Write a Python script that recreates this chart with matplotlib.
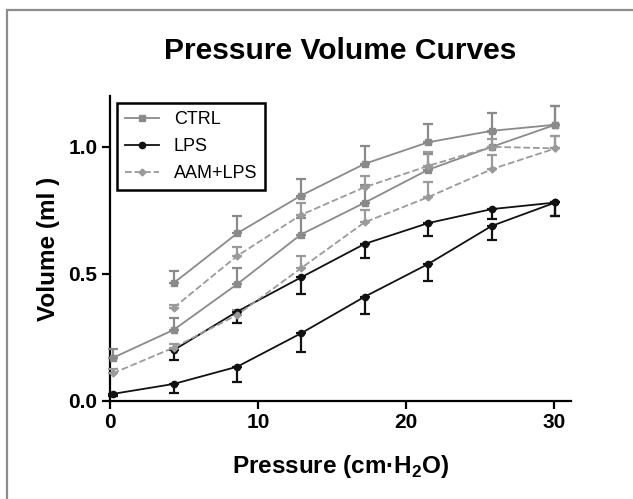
#!/usr/bin/env python3
# pressure_volume.py

import matplotlib
matplotlib.use("Agg")
import matplotlib.pyplot as plt
from matplotlib.lines import Line2D
from matplotlib.patches import Rectangle

# pressure steps (cm H2O): inflation starts at 0, deflation comes back to 4.3
p_infl = [0.2, 4.3, 8.6, 12.9, 17.2, 21.5, 25.8, 30.1]
p_defl = [4.3, 8.6, 12.9, 17.2, 21.5, 25.8, 30.1]

ctrl_infl = [0.17, 0.28, 0.46, 0.655, 0.78, 0.91, 1.00, 1.087]
ctrl_infl_err = [0.035, 0.046, 0.063, 0.065, 0.07, 0.063, 0.06, 0.075]
ctrl_defl = [0.464, 0.66, 0.808, 0.933, 1.018, 1.063, 1.087]
ctrl_defl_err = [0.048, 0.066, 0.065, 0.07, 0.072, 0.07, 0.075]

lps_infl = [0.028, 0.067, 0.135, 0.266, 0.41, 0.539, 0.689, 0.781]
lps_infl_err = [0.01, 0.037, 0.06, 0.072, 0.068, 0.067, 0.055, 0.055]
lps_defl = [0.20, 0.352, 0.486, 0.618, 0.70, 0.755, 0.781]
lps_defl_err = [0.04, 0.046, 0.065, 0.056, 0.05, 0.04, 0.055]

aam_infl = [0.109, 0.21, 0.339, 0.522, 0.703, 0.802, 0.912, 0.994]
aam_infl_err = [0.017, 0.015, 0.02, 0.05, 0.05, 0.058, 0.057, 0.05]
aam_defl = [0.367, 0.571, 0.732, 0.841, 0.925, 1.0, 0.994]
aam_defl_err = [0.012, 0.036, 0.046, 0.045, 0.053, 0.03, 0.05]

groups = ["CTRL", "LPS", "AAM+LPS"]

FONT = "Liberation Sans"
plt.rcParams["mathtext.fontset"] = "custom"
plt.rcParams["mathtext.rm"] = FONT
plt.rcParams["mathtext.bf"] = FONT + ":bold"


def one_sided(err, up=True):
    zeros = [0] * len(err)
    return [zeros, err] if up else [err, zeros]


def curve(ax, x, y, err, up, style):
    color, marker, ls, ms = style
    ax.errorbar(x, y, yerr=one_sided(err, up), color=color, ecolor=color,
                marker=marker, markersize=ms, linestyle=ls, linewidth=1.3,
                elinewidth=1.6, capsize=3.5, capthick=1.6,
                clip_on=False, zorder=3)


def plot(ax):
    styles = {
        "CTRL": ("#8a8a8a", "s", "-", 4.5),
        "LPS": ("#111111", "o", "-", 4.5),
        "AAM+LPS": ("#9a9a9a", "D", "--", 3.5),
    }

    curve(ax, p_infl, ctrl_infl, ctrl_infl_err, True, styles["CTRL"])
    curve(ax, p_defl, ctrl_defl, ctrl_defl_err, True, styles["CTRL"])
    curve(ax, p_infl, lps_infl, lps_infl_err, False, styles["LPS"])
    curve(ax, p_defl, lps_defl, lps_defl_err, False, styles["LPS"])
    curve(ax, p_infl, aam_infl, aam_infl_err, True, styles["AAM+LPS"])
    curve(ax, p_defl, aam_defl, aam_defl_err, True, styles["AAM+LPS"])

    ax.set_xlim(0, 31.15)
    ax.set_ylim(0, 1.2)
    ax.set_xticks([0, 10, 20, 30])
    ax.set_yticks([0.0, 0.5, 1.0])
    ax.set_yticklabels(["0.0", "0.5", "1.0"])
    for s in ("top", "right"):
        ax.spines[s].set_visible(False)
    for s in ("left", "bottom"):
        ax.spines[s].set_linewidth(1.6)
    ax.tick_params(direction="out", length=6, width=1.6, pad=3)
    for lab in ax.get_xticklabels() + ax.get_yticklabels():
        lab.set_fontfamily(FONT)
        lab.set_fontweight("bold")
        lab.set_fontsize(15)

    ax.set_xlabel("Pressure (cm\u00b7H$_\\mathbf{2}$O)", fontfamily=FONT,
                  fontweight="bold", fontsize=17.5, labelpad=15)
    ax.set_ylabel("Volume (ml )", fontfamily=FONT, fontweight="bold",
                  fontsize=17.5, labelpad=6)
    ax.set_title("Pressure Volume Curves", fontfamily=FONT,
                 fontweight="bold", fontsize=21.6, pad=27)

    handles = [Line2D([], [], color=styles[g][0], marker=styles[g][1],
                      linestyle=styles[g][2], markersize=styles[g][3],
                      linewidth=1.3) for g in groups]
    leg = ax.legend(handles, groups, loc="upper left",
                    bbox_to_anchor=(0.015, 0.977), borderaxespad=0,
                    fancybox=False, framealpha=1, edgecolor="black",
                    prop={"family": FONT, "size": 13}, handlelength=1.9,
                    handletextpad=0.8, labelspacing=0.55, borderpad=0.45)
    leg.get_frame().set_linewidth(1.8)


def main():
    fig = plt.figure(figsize=(6.33, 4.99), dpi=100)
    fig.patches.append(Rectangle((7 / 633, -0.1), 1.2, (499 - 10) / 499 + 0.1,
                                 transform=fig.transFigure, fill=False,
                                 edgecolor="#8c8c8c", linewidth=1.6))
    ax = fig.add_axes([110 / 633, 98 / 499, 461 / 633, 305 / 499])
    plot(ax)
    fig.savefig("out.png", dpi=100)


if __name__ == "__main__":
    main()
